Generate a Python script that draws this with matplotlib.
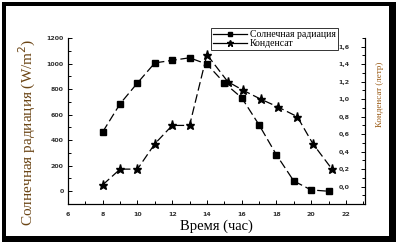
import matplotlib
matplotlib.use("Agg")
import matplotlib.pyplot as plt
import matplotlib.ticker as mticker
from matplotlib.lines import Line2D
from matplotlib.patches import Rectangle

# data
rad_hours = [8, 9, 10, 11, 12, 13, 14, 15, 16, 17, 18, 19, 20, 21]
radiation = [465, 685, 848, 1005, 1025, 1045, 995, 848, 732, 520, 285, 80, 10, 0]
cond_hours = [8, 9, 10, 11, 12, 13, 14, 15.2, 16.1, 17.1, 18.1, 19.2, 20.1, 21.2]
condensate = [0.02, 0.2, 0.2, 0.49, 0.7, 0.7, 1.51, 1.2, 1.1, 1.0, 0.91, 0.8, 0.49, 0.2]

W, H = 396, 244
SERIF = "Liberation Serif"


def px_rect(x0, y0, x1, y1, **kw):
    # pixel box (top-left origin) -> figure fraction rectangle
    return Rectangle((x0 / W, 1 - y1 / H), (x1 - x0) / W, (y1 - y0) / H,
                     transform=fig.transFigure, **kw)


fig = plt.figure(figsize=(W / 100, H / 100), dpi=100)
fig.patches.append(px_rect(2, 2, 396, 242, facecolor="black", zorder=-2))
fig.patches.append(px_rect(6, 6, 389, 236, facecolor="white", zorder=-1))

ax = fig.add_axes([68 / W, 1 - 204 / H, (365 - 68) / W, (204 - 38) / H])
ax.patch.set_alpha(0)
ax2 = ax.twinx()

ax.plot(rad_hours, radiation, color="black", lw=0.9, dashes=(7, 3),
        marker="s", markersize=4.8)
ax2.plot(cond_hours, condensate, color="black", lw=0.9, dashes=(7, 3),
         marker="*", markersize=6.5)

ax.set_xlim(6, 23.1)
ax.set_ylim(-100, 1200)
ax2.set_ylim(-0.199, 1.7)

ax.xaxis.set_major_locator(mticker.MultipleLocator(2))
ax.xaxis.set_minor_locator(mticker.MultipleLocator(1))
ax.yaxis.set_major_locator(mticker.MultipleLocator(200))
ax.yaxis.set_minor_locator(mticker.MultipleLocator(100))
ax2.yaxis.set_major_locator(mticker.MultipleLocator(0.2))
ax2.yaxis.set_minor_locator(mticker.MultipleLocator(0.1))
ax2.yaxis.set_major_formatter(
    mticker.FuncFormatter(lambda v, p: ("%.1f" % v).replace(".", ",")))

for a in (ax, ax2):
    a.spines["top"].set_visible(False)
    for s in a.spines.values():
        s.set_linewidth(0.8)
    a.tick_params(which="both", direction="in", width=0.7, pad=3,
                  labelsize=4.5, labelcolor="#333333")
    a.tick_params(which="major", length=3)
    a.tick_params(which="minor", length=2)
ax.tick_params(axis="x", pad=5.5)
# right-hand labels sit inside the plot, next to the spine
ax2.tick_params(axis="y", pad=-11)

fig.canvas.draw()
for a in (ax, ax2):
    for lab in a.get_xticklabels() + a.get_yticklabels():
        lab.set_fontweight("bold")
for lab in ax2.get_yticklabels():
    lab.set_horizontalalignment("right")

ax.set_xlabel("Время (час)", family=SERIF, fontsize=10.5, labelpad=2)
ax.set_ylabel("Солнечная радиация (W/m$^2$)", family=SERIF, fontsize=11,
              color="#6b4515")
ax.yaxis.set_label_coords((38 - 68) / (365 - 68), 0.43)
ax2.set_ylabel("Конденсат (летр)", family=SERIF, fontsize=6.5,
               color="#9a5a14")
ax2.yaxis.set_label_coords((376 - 68) / (365 - 68), 0.66)

handles = [
    Line2D([], [], color="black", lw=0.9, marker="s", markersize=3),
    Line2D([], [], color="black", lw=0.9, marker="*", markersize=4.5),
]
leg = fig.legend(handles, ["Солнечная радиация", "Конденсат"],
                 loc="upper left", bbox_to_anchor=(211 / W, 1 - 28 / H),
                 prop={"family": SERIF, "size": 7}, frameon=True,
                 fancybox=False, borderpad=0.2, labelspacing=0.05,
                 handlelength=3.5, handletextpad=0.3, borderaxespad=0)
leg.get_frame().set_edgecolor("black")
leg.get_frame().set_linewidth(0.7)

fig.savefig("out.png", dpi=100)
